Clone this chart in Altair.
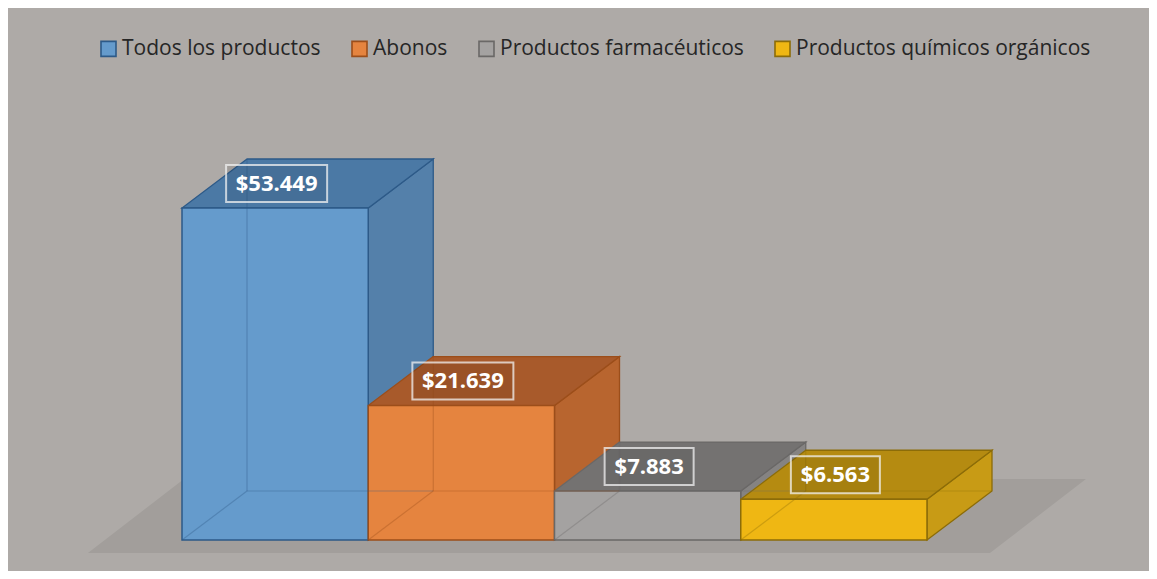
import altair as alt
import pandas as pd

# ---- data ----
products = ["Todos los productos", "Abonos", "Productos farmacéuticos", "Productos químicos orgánicos"]
values = [53449, 21639, 7883, 6563]

# ---- styles ----
front_colors = ["#659BCC", "#E5843F", "#A4A2A1", "#EFB713"]
top_colors = ["#4B79A5", "#A85A2B", "#747271", "#B58B11"]
side_colors = ["#5480AA", "#B8652F", "#858382", "#C89B15"]
edge_colors = ["#2D5A88", "#9C4E1A", "#6A6867", "#8C6C08"]
BG = "#AEAAA7"
FLOOR = "#A29E9B"

# ---- layout (pixels) ----
W, H = 1141, 563
BASE_PX = 532          # plot-y of value 0
TOP_PX = 200           # plot-y of the largest value
SLOT_PX = 186.25       # width of one bar
LEFT_PX = 174          # plot-x of the first bar
DEPTH_X_PX, DEPTH_Y_PX = 65, 49

ppu = (BASE_PX - TOP_PX) / max(values)
y_dom = [-(H - BASE_PX) / ppu, BASE_PX / ppu]
x_dom = [-LEFT_PX / SLOT_PX, (W - LEFT_PX) / SLOT_PX]
DX = DEPTH_X_PX / SLOT_PX
DY = DEPTH_Y_PX / ppu

xs = alt.Scale(domain=x_dom, nice=False, zero=False)
ys = alt.Scale(domain=y_dom, nice=False, zero=False)

def fmt(v):
    return "$" + f"{v:,.0f}".replace(",", ".")

front, side, top, edges, labels = [], [], [], [], []
for i, (p, v) in enumerate(zip(products, values)):
    x0, x1 = i, i + 1
    front.append(dict(product=p, x0=x0, x1=x1, y0=0, y1=v))
    side.append(dict(product=p, x=x1, y=v, y2=0, fill=side_colors[i], stroke=edge_colors[i]))
    side.append(dict(product=p, x=x1 + DX, y=v + DY, y2=DY, fill=side_colors[i], stroke=edge_colors[i]))
    top.append(dict(product=p, y=v, x=x0, x2=x1, fill=top_colors[i], stroke=edge_colors[i]))
    top.append(dict(product=p, y=v + DY, x=x0 + DX, x2=x1 + DX, fill=top_colors[i], stroke=edge_colors[i]))
    edges.append(dict(x=x0 + DX, y=DY, x2=x0 + DX, y2=v + DY, c=edge_colors[i]))
    edges.append(dict(x=x0 + DX, y=DY, x2=x1 + DX, y2=DY, c=edge_colors[i]))
    edges.append(dict(x=x0, y=0, x2=x0 + DX, y2=DY, c=edge_colors[i]))
    lab = fmt(v)
    hw = (6 * len(lab) + 8.5) / SLOT_PX
    hh = 18.5 / ppu
    cx = (x0 + x1) / 2 + 1.5 / SLOT_PX
    cy = v + DY / 2
    labels.append(dict(label=lab, cx=cx, cy=cy, bx=cx - hw, bx2=cx + hw, by=cy - hh, by2=cy + hh))

front_df = pd.DataFrame(front)
side_df = pd.DataFrame(side)
top_df = pd.DataFrame(top)
edge_df = pd.DataFrame(edges)
lab_df = pd.DataFrame(labels)

n = len(products)
floor_df = pd.DataFrame([
    dict(y=-13 / ppu, x=-0.505, x2=n + 0.338),
    dict(y=61 / ppu, x=-0.505 + 96 / SLOT_PX, x2=n + 0.338 + 96 / SLOT_PX),
])

floor = alt.Chart(floor_df).mark_area(orient="horizontal", color=FLOOR).encode(
    y=alt.Y("y:Q", scale=ys, axis=None),
    x=alt.X("x:Q", scale=xs, axis=None),
    x2="x2:Q",
)

sides = alt.Chart(side_df).mark_area(strokeWidth=1.3).encode(
    x=alt.X("x:Q", scale=xs, axis=None),
    y=alt.Y("y:Q", scale=ys, axis=None),
    y2="y2:Q",
    detail="product:N",
    fill=alt.Fill("fill:N", scale=None),
    stroke=alt.Stroke("stroke:N", scale=None),
)

tops = alt.Chart(top_df).mark_area(orient="horizontal", strokeWidth=1.3).encode(
    y=alt.Y("y:Q", scale=ys, axis=None),
    x=alt.X("x:Q", scale=xs, axis=None),
    x2="x2:Q",
    detail="product:N",
    fill=alt.Fill("fill:N", scale=None),
    stroke=alt.Stroke("stroke:N", scale=None),
)

leg = alt.Legend(
    title=None, orient="none", legendX=90, legendY=30, direction="horizontal",
    symbolType="square", symbolSize=225, symbolStrokeWidth=1.6, symbolOpacity=1,
    labelFont="Open Sans", labelFontSize=21, labelColor="#262626", labelOffset=3,
    columnPadding=27, padding=0, labelLimit=400,
)

fronts = alt.Chart(front_df).mark_rect(strokeWidth=1.5, opacity=1).encode(
    x=alt.X("x0:Q", scale=xs, axis=None),
    x2="x1:Q",
    y=alt.Y("y0:Q", scale=ys, axis=None),
    y2="y1:Q",
    fill=alt.Fill("product:N", scale=alt.Scale(domain=products, range=front_colors), sort=products, legend=leg),
    stroke=alt.Stroke("product:N", scale=alt.Scale(domain=products, range=edge_colors), sort=products, legend=leg),
)

inner = alt.Chart(edge_df).mark_rule(strokeWidth=1.2, opacity=0.35).encode(
    x=alt.X("x:Q", scale=xs, axis=None),
    x2="x2:Q",
    y=alt.Y("y:Q", scale=ys, axis=None),
    y2="y2:Q",
    color=alt.Color("c:N", scale=None),
)

boxes = alt.Chart(lab_df).mark_rect(
    fill="#000000", fillOpacity=0.08, stroke="#F2F2F2", strokeOpacity=0.75, strokeWidth=2
).encode(
    x=alt.X("bx:Q", scale=xs, axis=None),
    x2="bx2:Q",
    y=alt.Y("by:Q", scale=ys, axis=None),
    y2="by2:Q",
)

texts = alt.Chart(lab_df).mark_text(
    font="Open Sans", fontWeight="bold", fontSize=22, color="white", align="center", baseline="middle"
).encode(
    x=alt.X("cx:Q", scale=xs, axis=None),
    y=alt.Y("cy:Q", scale=ys, axis=None),
    text="label:N",
)

chart = alt.layer(floor, sides, tops, fronts, inner, boxes, texts).resolve_scale(
    fill="independent", stroke="independent", color="independent"
).properties(
    width=W, height=H, background=BG, padding=0
).configure_view(stroke=None)

chart.save("out.html", embed_options={"renderer": "svg", "actions": False})
